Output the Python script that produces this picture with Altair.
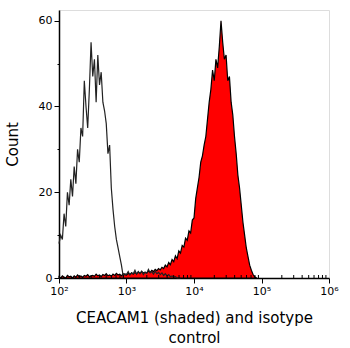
import altair as alt
import pandas as pd

# histogram channels: log10(intensity) = log_start + i * log_step
log_start = 2.0
log_step = 0.025

isotype_counts = [
    8, 10, 9, 15, 12, 20, 17, 23, 19, 26,
    22, 30, 27, 35, 33, 46, 40, 35, 44, 55,
    47, 51, 41, 52, 45, 48, 41, 39, 36, 29,
    31, 21, 16, 12, 9, 7, 5, 3, 0.5, 1,
    0.8, 1.5, 0.7, 1.2, 1, 1.8, 0.9, 1.5, 1, 1.6,
    0.8, 1.4, 1.1, 2, 1.2, 1.5, 0.9, 1.6, 1, 1.3,
    0.8, 1.2, 0.6, 1, 0.5, 0.8, 0.3, 0.5, 0.2, 0.3,
    0, 0, 0,
]

ceacam1_counts = [
    0.3, 0, 0.5, 0.2, 0, 0.6, 0.3, 0.4, 0, 0.5,
    0.2, 0.7, 0.3, 0.5, 0.2, 0.6, 0.4, 0.8, 0.3, 0.5,
    0.6, 0.4, 0.9, 0.5, 0.7, 0.3, 0.8, 0.6, 1, 0.5,
    0.7, 0.4, 0.9, 0.6, 1.1, 0.7, 0.9, 0.5, 1, 0.8,
    0.7, 1.1, 0.8, 1.2, 0.9, 1.3, 1, 1.4, 1.1, 1.5,
    1.2, 1.3, 1.2, 1.6, 1.3, 1.8, 1.5, 2, 1.7, 2.2,
    1.9, 2.5, 2.2, 3.0, 2.6, 3.6, 3.1, 4.3, 3.8, 5.2,
    4.5, 6.3, 5.8, 7.6, 7.2, 9.3, 8.8, 11, 10.5, 13.5,
    14, 18.5, 21, 23.5, 27, 28.5, 31, 33, 37, 41,
    44, 48.5, 46, 51, 49, 54, 60, 55, 51, 52,
    46, 47, 41, 38, 33, 29, 24, 21, 17, 13,
    10, 7, 5, 3, 1.8, 0.8, 0.3, 0,
]

x_tick_values = [100, 1000, 10000, 100000, 1000000]
x_tick_labels = ["10²", "10³", "10⁴", "10⁵", "10⁶"]
x_minor_ticks = [m * 10 ** k for k in range(2, 6) for m in range(2, 10)]
y_tick_values = [0, 10, 20, 30, 40, 50, 60]

iso_df = pd.DataFrame({
    "x": [10 ** (log_start + i * log_step) for i in range(len(isotype_counts))],
    "count": isotype_counts,
})
cea_df = pd.DataFrame({
    "x": [10 ** (log_start + i * log_step) for i in range(len(ceacam1_counts))],
    "count": ceacam1_counts,
})
minor_df = pd.DataFrame({"x": x_minor_ticks, "count": [0] * len(x_minor_ticks)})

label_expr = " : ".join(
    f"datum.value == {v} ? '{l}'" for v, l in zip(x_tick_values, x_tick_labels)
) + " : ''"

FONT = "DejaVu Sans"

x_axis = alt.Axis(
    values=x_tick_values,
    labelExpr=label_expr,
    title=["CEACAM1 (shaded) and isotype", "control"],
    titleFontSize=15,
    titleFont=FONT,
    titleFontWeight="normal",
    titleColor="black",
    titleLineHeight=20,
    titlePadding=14,
    labelFont=FONT,
    labelFontSize=11,
    labelColor="black",
    labelPadding=2,
    tickSize=5,
    tickColor="black",
    domainColor="black",
    domainWidth=1.5,
    grid=False,
    labelFlush=False,
)

y_axis = alt.Axis(
    values=y_tick_values,
    labelExpr="datum.value % 20 === 0 ? datum.label : ''",
    title="Count",
    titleFontSize=15,
    titleFont=FONT,
    titleFontWeight="normal",
    titleColor="black",
    titlePadding=18,
    labelFont=FONT,
    labelFontSize=11,
    labelColor="black",
    labelPadding=2,
    tickSize={"condition": {"test": "datum.value % 20 === 0", "value": 5}, "value": 2},
    tickColor="black",
    domainColor="black",
    domainWidth=1.5,
    grid=False,
)

x_scale = alt.Scale(type="log", domain=[100, 1000000], nice=False)
y_scale = alt.Scale(domain=[0, 62.5], nice=False, zero=True)

x_enc = alt.X("x:Q", scale=x_scale, axis=x_axis)
y_enc = alt.Y("count:Q", scale=y_scale, axis=y_axis)

area = alt.Chart(cea_df).mark_area(
    fill="#ff0000", stroke="black", strokeWidth=1.2, fillOpacity=1
).encode(x=x_enc, y=y_enc)

line = alt.Chart(iso_df).mark_line(color="#222222", strokeWidth=1.2).encode(x=x_enc, y=y_enc)

minor = alt.Chart(minor_df).mark_tick(
    orient="vertical", size=3, thickness=1, color="black", yOffset=-1.5, opacity=1
).encode(x=x_enc, y=y_enc)

chart = alt.layer(area, line, minor).properties(
    width=270,
    height=268,
    autosize="none",
    padding={"left": 59, "top": 10, "right": 21, "bottom": 70},
).configure_view(
    stroke="#555555", strokeWidth=1.5
).configure(background="white")

chart.save("out.html", embed_options={"renderer": "svg", "actions": False})
